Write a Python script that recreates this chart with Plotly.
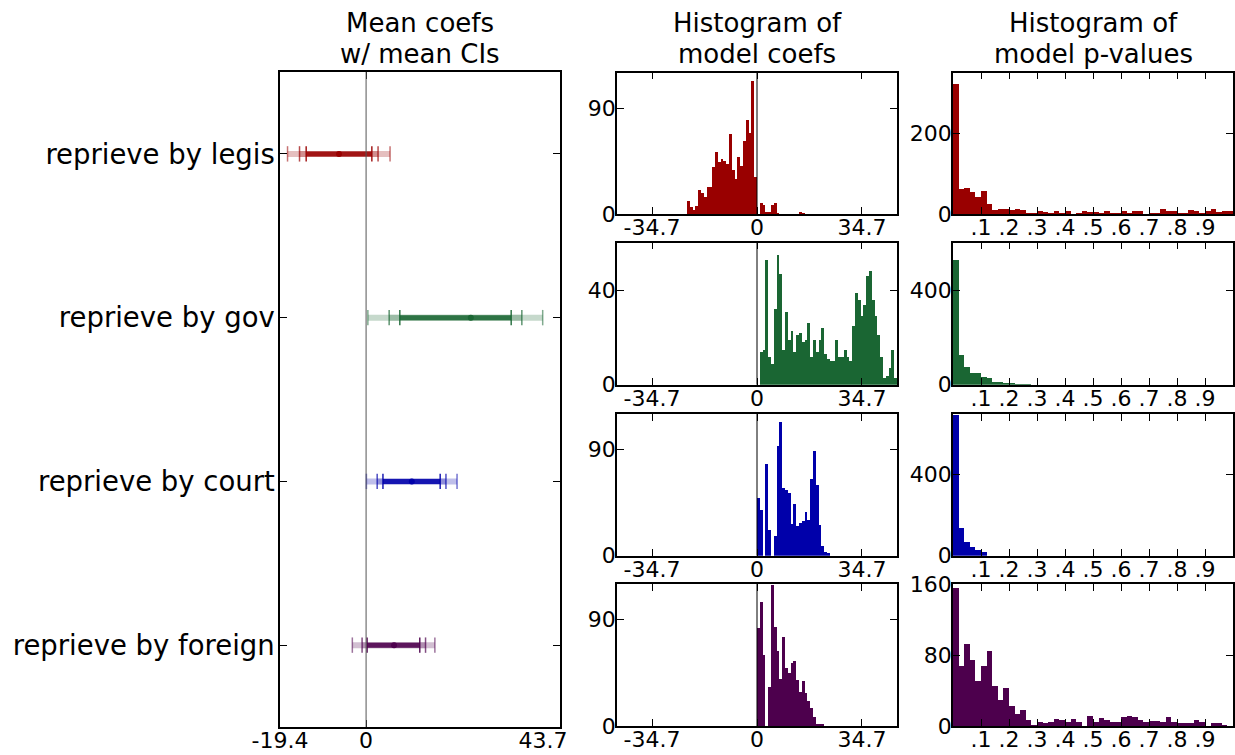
import numpy as np
import plotly.graph_objects as go

W, H = 1235, 755

# ---------------- data ----------------
categories = ["reprieve by legis", "reprieve by gov", "reprieve by court", "reprieve by foreign"]
colors = ["#990000", "#1a6633", "#0000aa", "#4d004d"]
rgb = [(153, 0, 0), (26, 102, 51), (0, 0, 170), (77, 0, 77)]

ci_outer_lo = [-17.7, 0.4, 0.07, -3.1]
ci_outer_hi = [5.4, 39.8, 20.5, 15.5]
ci_mid_lo = [-15.0, 5.2, 2.5, -0.9]
ci_mid_hi = [2.7, 35.1, 18.0, 13.4]
ci_inner_lo = [-13.5, 7.6, 3.8, 0.23]
ci_inner_hi = [1.3, 32.7, 16.7, 12.1]
coef_means = [-6.1, 23.6, 10.3, 6.3]

left_xlim = [-19.4, 43.7]
left_xticks = [-19.4, 0]
left_xticktext = ["-19.4", "0"]
left_xticks_right = [43.7]
left_xticktext_right = ["43.7"]

# coefficient histograms: 100 bins over [-COEF_LIM, COEF_LIM]; counts start at bin index
COEF_LIM = 46.27
N_COEF_BINS = 100
coef_ticks = [-34.7, 0, 34.7]
coef_ticktext = ["-34.7", "0", "34.7"]

coef_start_legis = 25
coef_counts_legis = [11, 6, 4, 7, 21, 18, 15, 23, 23, 40, 53, 44, 47, 45, 43, 68, 38, 30, 49, 41,
                     62, 80, 69, 113, 32,
                     0, 10, 8, 2, 2, 8, 10, 1, 0, 0, 0, 0, 0, 0, 0, 2, 1]
coef_start_gov = 51
coef_counts_gov = [14, 15, 53, 12, 9, 32, 55, 47, 15, 31, 19, 23, 14, 21, 22, 18, 19, 26, 12, 19,
                   14, 19, 24, 13, 11, 10, 10, 19, 12, 12, 15, 12, 10, 25, 39, 36, 29, 34, 46, 48,
                   36, 29, 21, 12, 3, 4, 7, 15, 3]
coef_start_court = 50
coef_counts_court = [49, 39, 0, 78, 22, 0, 17, 93, 113, 57, 56, 53, 27, 44, 25, 28, 29, 37, 30, 65,
                     89, 60, 26, 8, 3, 2]
coef_start_foreign = 50
coef_counts_foreign = [83, 105, 60, 0, 33, 119, 84, 63, 40, 75, 49, 45, 53, 55, 39, 29, 38, 28, 21, 15,
                       8, 2, 1, 1]

coef_ymax = [120, 60, 120, 120]
coef_yticks = [[0, 90], [0, 40], [0, 90], [0, 90]]

# p-value histograms: 50 bins over [0, 1]
N_P_BINS = 50
p_ticks = [0.1, 0.2, 0.3, 0.4, 0.5, 0.6, 0.7, 0.8, 0.9]
p_ticktext = [".1", ".2", ".3", ".4", ".5", ".6", ".7", ".8", ".9"]

p_counts_legis = [323, 63, 66, 55, 44, 57, 25, 10, 14, 14, 10, 13, 10, 4, 3, 7, 6, 3, 8, 3,
                  7, 0, 3, 8, 5, 5, 2, 8, 2, 3, 7, 2, 7, 7, 0, 4, 4, 13, 7, 8,
                  4, 2, 11, 7, 3, 8, 12, 6, 7, 9]
p_counts_gov = [530, 125, 76, 52, 50, 34, 31, 14, 13, 6, 7, 4, 1, 1]
p_counts_court = [695, 135, 69, 41, 28, 16]
p_counts_foreign = [156, 68, 92, 74, 51, 68, 85, 45, 29, 43, 22, 13, 18, 7, 1, 4, 3, 4, 8, 7,
                    4, 8, 4, 0, 11, 4, 9, 7, 5, 4, 10, 11, 10, 7, 4, 6, 6, 4, 10, 4,
                    3, 3, 3, 7, 5, 0, 3, 3, 1, 0]

p_ymax = [350, 600, 700, 160]
p_yticks = [[0, 200], [0, 400], [0, 400], [0, 80, 160]]

coef_data = [(coef_start_legis, coef_counts_legis), (coef_start_gov, coef_counts_gov),
             (coef_start_court, coef_counts_court), (coef_start_foreign, coef_counts_foreign)]
p_data = [p_counts_legis, p_counts_gov, p_counts_court, p_counts_foreign]

# ---------------- layout geometry (pixels) ----------------
def xd(a, b):
    return [a / W, b / W]

def yd(top, bottom):
    return [1 - bottom / H, 1 - top / H]

LEFT_X = (280, 560)
LEFT_Y = (72, 727)
MID_X = (617, 897)
RIGHT_X = (953, 1233)
ROWS = [(72.7, 214), (242.7, 384.7), (414, 555.7), (584, 726)]

FONT = "DejaVu Sans"
axis_common = dict(showline=True, linecolor="black", linewidth=1.5, mirror="allticks",
                   ticks="inside", ticklen=7, tickwidth=1, tickcolor="black",
                   showgrid=False, zeroline=False, automargin=False,
                   tickfont=dict(size=22, family=FONT, color="black"))
xaxis_common = dict(axis_common, ticklabelstandoff=-7)
yaxis_common = dict(axis_common, ticklabelstandoff=-5)

def rgba(c, a):
    return "rgba(%d,%d,%d,%.3f)" % (c[0], c[1], c[2], a)

fig = go.Figure()
shapes = []
layout = dict(width=W, height=H, margin=dict(l=0, r=0, t=0, b=0, autoexpand=False), showlegend=False,
              plot_bgcolor="white", paper_bgcolor="white",
              font=dict(family=FONT, color="black"))

# ---------------- left panel: CIs ----------------
for i in range(4):
    c = rgb[i]
    for lo, hi, a, lw, ca in [(ci_outer_lo, ci_outer_hi, 0.25, 6, 0.55),
                              (ci_mid_lo, ci_mid_hi, 0.25, 6, 0.7),
                              (ci_inner_lo, ci_inner_hi, 0.85, 5, 0.9)]:
        fig.add_trace(go.Scatter(x=[lo[i], hi[i]], y=[i, i], mode="lines",
                                 line=dict(color=rgba(c, a), width=lw),
                                 xaxis="x", yaxis="y", hoverinfo="skip"))
        fig.add_trace(go.Scatter(x=[lo[i], hi[i]], y=[i, i], mode="markers",
                                 marker=dict(symbol="line-ns", size=11,
                                             line=dict(color=rgba(c, ca), width=1.5)),
                                 xaxis="x", yaxis="y", hoverinfo="skip"))
    fig.add_trace(go.Scatter(x=[coef_means[i]], y=[i], mode="markers",
                             marker=dict(symbol="circle", size=6, color=colors[i]),
                             xaxis="x", yaxis="y", hoverinfo="skip"))

layout["xaxis"] = dict(xaxis_common, domain=xd(*LEFT_X), anchor="y", range=left_xlim,
                       tickvals=left_xticks, ticktext=left_xticktext)
layout["yaxis"] = dict(yaxis_common, domain=yd(*LEFT_Y), anchor="x", range=[3.5, -0.5],
                       tickvals=[0, 1, 2, 3], ticktext=categories, ticklabelstandoff=-2,
                       tickfont=dict(size=27.5, family=FONT, color="black"))
# overlay axes pair carrying the right-edge tick; its label sits inside the panel as in the reference
layout["xaxis10"] = dict(xaxis_common, domain=xd(*LEFT_X), anchor="y10", overlaying="x",
                         side="bottom", range=left_xlim,
                         tickvals=left_xticks_right, ticktext=left_xticktext_right,
                         ticklabelshift=-17)
layout["yaxis10"] = dict(domain=yd(*LEFT_Y), anchor="x10", overlaying="y", range=[3.5, -0.5],
                         showline=False, ticks="", showticklabels=False, showgrid=False,
                         zeroline=False, automargin=False)
fig.add_trace(go.Scatter(x=[left_xlim[1]], y=[0], mode="markers", marker=dict(opacity=0),
                         xaxis="x10", yaxis="y10", hoverinfo="skip"))
shapes.append(dict(type="line", xref="x", yref="y domain", x0=0, x1=0, y0=0, y1=1,
                   line=dict(color="#555555", width=1), layer="above"))

# ---------------- middle panels: coefficient histograms ----------------
coef_edges = np.linspace(-COEF_LIM, COEF_LIM, N_COEF_BINS + 1)
coef_centers = (coef_edges[:-1] + coef_edges[1:]) / 2
coef_w = coef_edges[1] - coef_edges[0]
for i in range(4):
    ax = 2 + i
    start, counts = coef_data[i]
    xs = coef_centers[start:start + len(counts)]
    fig.add_trace(go.Bar(x=xs, y=counts, width=coef_w, marker=dict(color=colors[i], line=dict(width=0)),
                         xaxis="x%d" % ax, yaxis="y%d" % ax, hoverinfo="skip"))
    layout["xaxis%d" % ax] = dict(xaxis_common, domain=xd(*MID_X), anchor="y%d" % ax,
                                  range=[-COEF_LIM, COEF_LIM], tickvals=coef_ticks, ticktext=coef_ticktext)
    layout["yaxis%d" % ax] = dict(yaxis_common, domain=yd(*ROWS[i]), anchor="x%d" % ax,
                                  range=[0, coef_ymax[i]], tickvals=coef_yticks[i])
    shapes.append(dict(type="line", xref="x%d" % ax, yref="y%d domain" % ax, x0=0, x1=0, y0=0, y1=1,
                       line=dict(color="black", width=1), layer="above"))

# ---------------- right panels: p-value histograms ----------------
p_edges = np.linspace(0, 1, N_P_BINS + 1)
p_centers = (p_edges[:-1] + p_edges[1:]) / 2
p_w = p_edges[1] - p_edges[0]
for i in range(4):
    ax = 6 + i
    counts = p_data[i]
    xs = p_centers[:len(counts)]
    fig.add_trace(go.Bar(x=xs, y=counts, width=p_w, marker=dict(color=colors[i], line=dict(width=0)),
                         xaxis="x%d" % ax, yaxis="y%d" % ax, hoverinfo="skip"))
    layout["xaxis%d" % ax] = dict(xaxis_common, domain=xd(*RIGHT_X), anchor="y%d" % ax,
                                  range=[0, 1], tickvals=p_ticks, ticktext=p_ticktext)
    layout["yaxis%d" % ax] = dict(yaxis_common, domain=yd(*ROWS[i]), anchor="x%d" % ax,
                                  range=[0, p_ymax[i]], tickvals=p_yticks[i])

# ---------------- titles ----------------
titles = [((LEFT_X[0] + LEFT_X[1]) / 2, "Mean coefs", "w/ mean CIs"),
          ((MID_X[0] + MID_X[1]) / 2, "Histogram of", "model coefs"),
          ((RIGHT_X[0] + RIGHT_X[1]) / 2, "Histogram of", "model p-values")]
annotations = []
for cx, l1, l2 in titles:
    for txt, py in [(l1, 23), (l2, 54)]:
        annotations.append(dict(text=txt, x=cx / W, y=1 - py / H, xref="paper", yref="paper",
                                xanchor="center", yanchor="middle", showarrow=False,
                                font=dict(size=26, family=FONT, color="black")))

layout["shapes"] = shapes
layout["annotations"] = annotations
layout["bargap"] = 0
fig.update_layout(**layout)
fig.write_html("out.html")
